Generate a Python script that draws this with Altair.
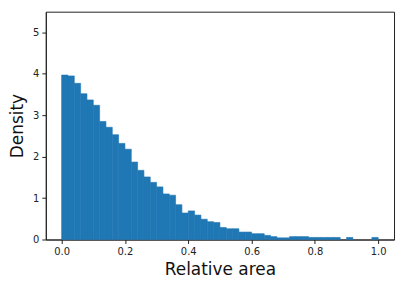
import altair as alt
import pandas as pd

bin_width = 0.02
density = [3.97, 3.95, 3.77, 3.52, 3.37, 3.24, 2.85, 2.71, 2.53, 2.32,
           2.18, 1.87, 1.67, 1.51, 1.38, 1.27, 1.10, 1.07, 0.84, 0.64,
           0.69, 0.59, 0.49, 0.43, 0.41, 0.29, 0.26, 0.26, 0.18, 0.18,
           0.14, 0.14, 0.10, 0.07, 0.04, 0.04, 0.07, 0.07, 0.07, 0.05,
           0.05, 0.05, 0.05, 0.05, 0.0, 0.05, 0.0, 0.0, 0.0, 0.05]
x_ticks = [0.0, 0.2, 0.4, 0.6, 0.8, 1.0]
y_ticks = [0, 1, 2, 3, 4, 5]

df = pd.DataFrame({
    "start": [i * bin_width for i in range(len(density))],
    "end": [(i + 1) * bin_width for i in range(len(density))],
    "density": density,
})

font = "DejaVu Sans"

chart = alt.Chart(df).mark_rect(color="#1f77b4", stroke="#1f77b4", strokeWidth=0.6).encode(
    x=alt.X("start:Q", scale=alt.Scale(domain=[-0.05, 1.05], nice=False, zero=False),
            axis=alt.Axis(values=x_ticks, format=".1f", title="Relative area")),
    x2="end:Q",
    y=alt.Y("density:Q", scale=alt.Scale(domain=[0, 5.5], nice=False),
            axis=alt.Axis(values=y_ticks, format="d", title="Density")),
    y2=alt.datum(0),
).transform_filter(
    alt.datum.density > 0
).properties(
    width=350, height=229,
    autosize=alt.AutoSizeParams(type="none"),
    padding={"left": 38, "top": 3, "right": 5, "bottom": 40},
).configure_view(
    stroke="#222", strokeWidth=1
).configure_axis(
    grid=False,
    domainColor="#222",
    tickColor="#222",
    tickSize=4,
    labelFont=font,
    labelFontSize=10,
    labelColor="#222",
    labelPadding=3,
    titleFont=font,
    titleFontSize=17,
    titleFontWeight="normal",
    titleColor="#111",
).configure_axisX(
    titlePadding=5,
).configure_axisY(
    titlePadding=6,
)

chart.save("out.html", embed_options={"renderer": "svg", "actions": False})
